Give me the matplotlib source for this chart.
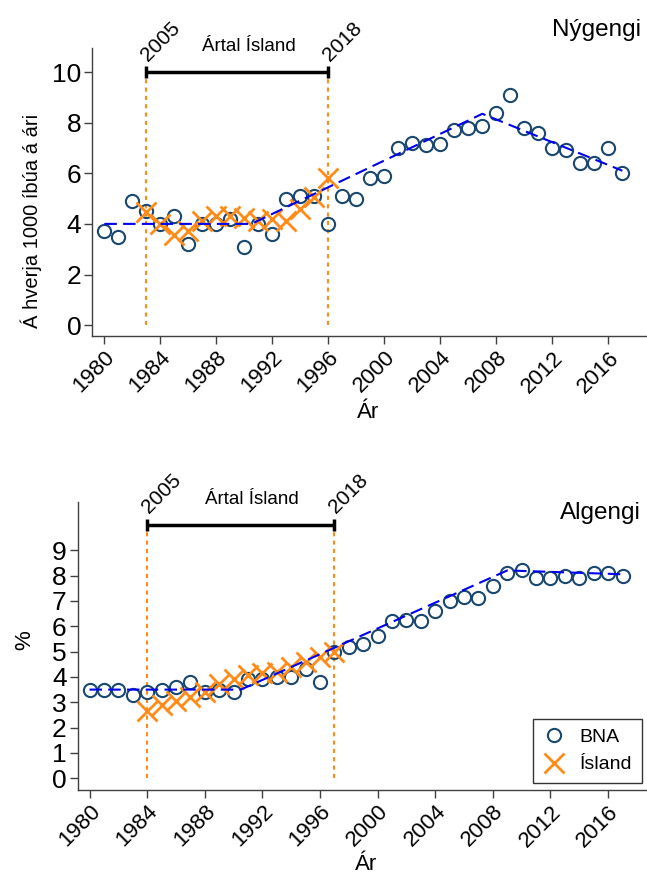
import matplotlib
matplotlib.use('Agg')
import matplotlib.pyplot as plt
import numpy as np
from matplotlib.lines import Line2D

plt.rcParams['font.family'] = ['Liberation Sans', 'DejaVu Sans']

years = np.arange(1980, 2018)

# Nýgengi (incidence per 1000 per year)
nygengi_bna = [3.7, 3.5, 4.9, 4.5, 4.0, 4.3, 3.2, 4.0, 4.0, 4.2,
               3.1, 4.0, 3.6, 5.0, 5.1, 5.1, 4.0, 5.1, 5.0, 5.8,
               5.9, 7.0, 7.2, 7.1, 7.15, 7.7, 7.8, 7.85, 8.4, 9.1,
               7.8, 7.6, 7.0, 6.9, 6.4, 6.4, 7.0, 6.0]
nygengi_isl_years = np.arange(1983, 1997)
nygengi_isl = [4.45, 4.0, 3.55, 3.7, 4.1, 4.3, 4.3, 4.25, 4.1, 4.2,
               4.1, 4.6, 5.05, 5.8]
nygengi_trend_x = [1980, 1990.5, 2007, 2017]
nygengi_trend_y = [4.0, 4.0, 8.35, 6.1]

# Algengi (prevalence %)
algengi_bna = [3.5, 3.5, 3.5, 3.3, 3.4, 3.5, 3.6, 3.8, 3.42, 3.5,
               3.4, 3.9, 3.9, 4.0, 4.0, 4.3, 3.8, 5.0, 5.2, 5.3,
               5.6, 6.2, 6.25, 6.2, 6.6, 7.0, 7.15, 7.1, 7.6, 8.1,
               8.2, 7.9, 7.9, 8.0, 7.9, 8.1, 8.1, 8.0]
algengi_isl_years = np.arange(1984, 1998)
algengi_isl = [2.67, 2.9, 3.07, 3.2, 3.42, 3.73, 3.9, 4.08, 4.15, 4.19,
               4.39, 4.57, 4.8, 5.0]
algengi_trend_x = [1980, 1990.5, 2009, 2017]
algengi_trend_y = [3.5, 3.5, 8.2, 8.05]

NAVY = '#1a476f'
ORANGE = '#ff8c1a'
BLUE = '#0000ee'
SPINE = '#404040'

W, H = 647, 875
fig = plt.figure(figsize=(W / 100, H / 100), dpi=100)


def px_axes(left, top, right, bottom):
    return fig.add_axes([left / W, 1 - bottom / H, (right - left) / W, (bottom - top) / H])


def draw_panel(ax, bna, isl_years, isl, tx, ty, yticks, xlim):
    ax.plot(years, bna, 'o', ms=9.5, mfc='none', mec=NAVY, mew=1.5, zorder=2)
    ax.plot(isl_years, isl, 'x', ms=15, color=ORANGE, mew=2, zorder=3)
    ax.plot(tx, ty, color=BLUE, lw=1.5, dashes=(6, 3), zorder=4)

    start, end = isl_years[0], isl_years[-1]
    for x in (start, end):
        ax.plot([x, x], [0, 10], color=ORANGE, lw=1.5, dashes=(2, 2), zorder=1)
    ax.plot([start, end], [10, 10], color='black', lw=2.5, zorder=5,
            solid_capstyle='butt')
    ax.plot([start, end], [10, 10], '|', color='black', ms=9, mew=2.5, zorder=5)
    ax.text(start + 0.3, 10.3, '2005', rotation=45, rotation_mode='anchor',
            ha='left', va='bottom', fontsize=15, clip_on=False)
    ax.text(end + 0.3, 10.3, '2018', rotation=45, rotation_mode='anchor',
            ha='left', va='bottom', fontsize=15, clip_on=False)
    ax.text((start + end) / 2 + 0.8, 11.0, 'Ártal Ísland', ha='center',
            va='center', fontsize=13.5, clip_on=False)

    ax.set_xlim(*xlim)
    ax.set_xticks(np.arange(1980, 2017, 4))
    ax.set_yticks(yticks)
    ax.tick_params(axis='both', length=6, width=1, color=SPINE, pad=2)
    ax.tick_params(axis='y', labelsize=19)
    ax.tick_params(axis='x', labelsize=16)
    for lab in ax.get_xticklabels():
        lab.set_rotation(45)
        lab.set_ha('right')
        lab.set_va('top')
        lab.set_rotation_mode('anchor')
    for s in ('top', 'right'):
        ax.spines[s].set_visible(False)
    for s in ('left', 'bottom'):
        ax.spines[s].set_color(SPINE)
        ax.spines[s].set_linewidth(1)


ax1 = px_axes(92.3, 48, 647, 336)
draw_panel(ax1, nygengi_bna, nygengi_isl_years, nygengi_isl,
           nygengi_trend_x, nygengi_trend_y, np.arange(0, 11, 2),
           (1979.14, 2018.76))
ax1.set_ylim(-0.43, 10.95)

ax2 = px_axes(77.7, 502, 647, 790)
draw_panel(ax2, algengi_bna, algengi_isl_years, algengi_isl,
           algengi_trend_x, algengi_trend_y, np.arange(0, 10, 1),
           (1979.18, 2018.7))
ax2.set_ylim(-0.46, 10.9)

handles = [Line2D([], [], ls='none', marker='o', ms=9.5, mfc='none', mec=NAVY, mew=1.5),
           Line2D([], [], ls='none', marker='x', ms=15, color=ORANGE, mew=2)]
leg = ax2.legend(handles, ['BNA', 'Ísland'], loc='lower right',
                 bbox_to_anchor=(0.991, 0.024), fontsize=14, frameon=True,
                 fancybox=False, edgecolor='black', borderaxespad=0,
                 handlelength=1.2, handletextpad=0.7, labelspacing=0.5,
                 borderpad=0.5)
leg.get_frame().set_linewidth(1)

fig.text(641 / W, 1 - 30 / H, 'Nýgengi', ha='right', va='center', fontsize=17.5)
fig.text(641 / W, 1 - 513 / H, 'Algengi', ha='right', va='center', fontsize=17.5)
fig.text(31 / W, 1 - 221 / H, 'Á hverja 1000 íbúa á ári', rotation=90,
         ha='center', va='center', fontsize=14.5)
fig.text(25 / W, 1 - 640 / H, '%', rotation=90, ha='center', va='center',
         fontsize=16)
fig.text(368 / W, 1 - 412 / H, 'Ár', ha='center', va='center', fontsize=16)
fig.text(366 / W, 1 - 865 / H, 'Ár', ha='center', va='center', fontsize=16)

fig.savefig('out.png', dpi=100)
